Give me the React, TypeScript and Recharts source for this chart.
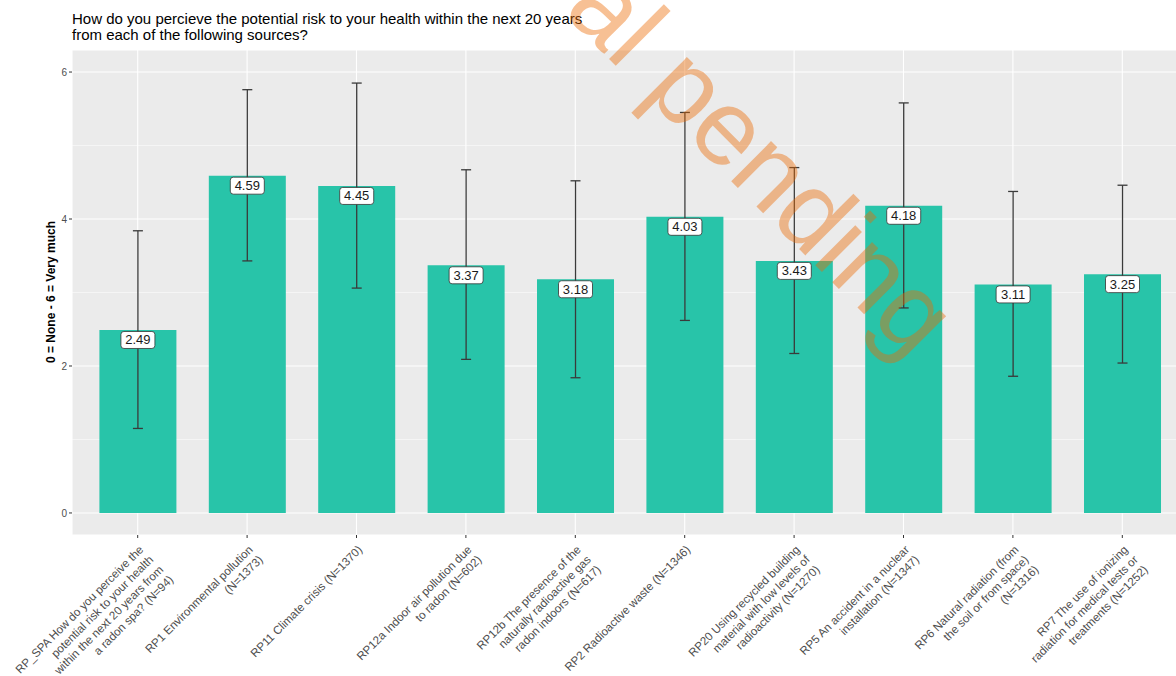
import React from 'react';
import { BarChart, Bar, XAxis, YAxis, CartesianGrid, ErrorBar } from 'recharts';

const categories = [
  'RP_SPA How do you perceive the\npotential risk to your health\nwithin the next 20 years from\na radon spa? (N=94)',
  'RP1 Environmental pollution\n(N=1373)',
  'RP11 Climate crisis (N=1370)',
  'RP12a Indoor air pollution due\nto radon (N=602)',
  'RP12b The presence of the\nnaturally radioactive gas\nradon indoors (N=617)',
  'RP2 Radioactive waste (N=1346)',
  'RP20 Using recycled building\nmaterial with low levels of\nradioactivity (N=1270)',
  'RP5 An accident in a nuclear\ninstallation (N=1347)',
  'RP6 Natural radiation (from\nthe soil or from space)\n(N=1316)',
  'RP7 The use of ionizing\nradiation for medical tests or\ntreatments (N=1252)',
];
const means = [2.49, 4.59, 4.45, 3.37, 3.18, 4.03, 3.43, 4.18, 3.11, 3.25];
const lowerBounds = [1.15, 3.43, 3.06, 2.09, 1.84, 2.62, 2.17, 2.79, 1.86, 2.04];
const upperBounds = [3.84, 5.76, 5.85, 4.67, 4.52, 5.45, 4.7, 5.58, 4.375, 4.46];
const majorTicks = [0, 2, 4, 6];
const minorTicks = [1, 3, 5];

const titleLines = [
  'How do you percieve the potential risk to your health within the next 20 years',
  'from each of the following sources?',
];
const yTitle = '0 = None - 6 = Very much';
const watermark = 'al pending';

const data = categories.map((c, i) => ({
  cat: c,
  mean: means[i],
  err: [means[i] - lowerBounds[i], upperBounds[i] - means[i]],
}));

const FONT = "'Liberation Sans', Arial, sans-serif";

const XTick = (props: any) => {
  const { x, y, payload } = props;
  const lines = String(payload.value).split('\n');
  return (
    <g transform={`translate(${x},${y + 6}) rotate(-45)`}>
      <text textAnchor="end" fontSize={11.6} fill="#4d4d4d" fontFamily={FONT}>
        {lines.map((l, i) => (
          <tspan key={i} x={0} dy={i === 0 ? 9 : 14.1}>
            {l}
          </tspan>
        ))}
      </text>
    </g>
  );
};

const renderLabel = (props: any) => {
  const { x, y, width, value } = props;
  const cx = x + width / 2;
  const top = y + 1.5;
  return (
    <g>
      <rect x={cx - 17} y={top} width={34} height={17} rx={3} ry={3} fill="#fff" stroke="#333" strokeWidth={0.8} />
      <text x={cx} y={top + 13} textAnchor="middle" fontSize={13} fill="#1a1a1a" fontFamily={FONT}>
        {Number(value).toFixed(2)}
      </text>
    </g>
  );
};

export default function App() {
  return (
    <div
      style={{
        position: 'absolute',
        left: 0,
        top: 0,
        width: 1176,
        height: 676,
        overflow: 'hidden',
        background: '#fff',
        fontFamily: FONT,
      }}
    >
      <BarChart
        width={1188}
        height={676}
        data={data}
        margin={{ top: 50, right: 0, bottom: 0, left: 42 }}
        barCategoryGap="15%"
      >
        <CartesianGrid fill="#EBEBEB" stroke="#fff" strokeWidth={1.1} />
        <CartesianGrid horizontalValues={minorTicks} vertical={false} stroke="#fff" strokeWidth={0.5} />
        <XAxis
          dataKey="cat"
          height={141}
          interval={0}
          tickSize={3}
          tickMargin={0}
          axisLine={false}
          tickLine={{ stroke: '#333' }}
          padding={{ left: 11, right: 11 }}
          tick={<XTick />}
        />
        <YAxis
          type="number"
          width={30}
          domain={[-0.3, 6.3]}
          ticks={majorTicks}
          allowDataOverflow
          axisLine={false}
          tickSize={3}
          tickMargin={2}
          tickLine={{ stroke: '#333' }}
          tick={{ fontSize: 10, fill: '#4d4d4d', fontFamily: FONT }}
        />
        <Bar dataKey="mean" fill="#28C4A9" isAnimationActive={false} label={renderLabel}>
          <ErrorBar dataKey="err" width={5} stroke="#3a3a3a" strokeWidth={1.3} direction="y" />
        </Bar>
      </BarChart>
      <svg
        width={1176}
        height={676}
        style={{ position: 'absolute', left: 0, top: 0, pointerEvents: 'none' }}
      >
        {titleLines.map((t, i) => (
          <text key={i} x={72} y={24 + i * 16} fontSize={15} fill="#000" fontFamily={FONT}>
            {t}
          </text>
        ))}
        <text
          transform="translate(54.5,292) rotate(-90)"
          textAnchor="middle"
          fontSize={12}
          fontWeight="bold"
          fill="#000"
          fontFamily={FONT}
        >
          {yTitle}
        </text>
        <text
          transform="translate(562,12) rotate(45)"
          fontSize={107}
          fill="#EC6A00"
          fillOpacity={0.42}
          fontFamily={FONT}
        >
          {watermark}
        </text>
      </svg>
    </div>
  );
}
